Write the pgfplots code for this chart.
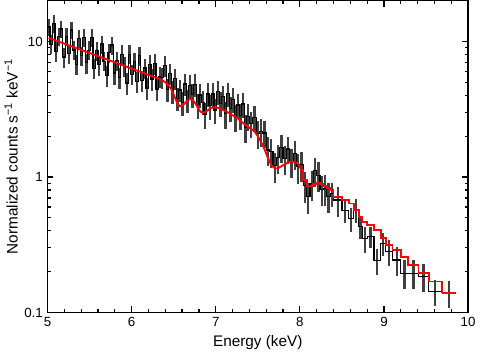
\documentclass[border=0pt]{standalone}
\usepackage{fontspec}
\setmainfont{Liberation Sans}
\usepackage{pgfplots}
\usepackage{pgfplotstable}
\pgfplotsset{compat=1.18}

% bins: left edge, centre, data, relative error, model
\pgfplotstableread{
xl xc y e m
5.00 5.015 12.78 0.14 10.63
5.03 5.045 9.54 0.16 10.46
5.06 5.075 13.58 0.15 10.30
5.09 5.105 8.43 0.17 10.13
5.12 5.135 10.93 0.15 9.97
5.15 5.165 12.36 0.14 9.82
5.18 5.195 7.67 0.17 9.66
5.21 5.225 10.92 0.15 9.51
5.24 5.255 8.15 0.16 9.36
5.27 5.285 12.14 0.14 9.21
5.30 5.315 8.66 0.16 9.07
5.33 5.345 6.77 0.17 8.92
5.36 5.375 10.55 0.15 8.78
5.39 5.405 7.88 0.16 8.64
5.42 5.435 10.71 0.15 8.51
5.45 5.465 6.96 0.17 8.37
5.48 5.495 8.63 0.16 8.24
5.51 5.525 10.69 0.15 8.11
5.54 5.555 6.34 0.17 7.98
5.57 5.585 8.61 0.16 7.86
5.60 5.615 6.73 0.17 7.73
5.63 5.645 9.58 0.15 7.61
5.66 5.675 7.15 0.16 7.49
5.69 5.705 5.59 0.18 7.37
5.72 5.735 8.32 0.16 7.25
5.75 5.765 9.41 0.15 7.14
5.78 5.795 5.85 0.18 7.03
5.81 5.825 7.25 0.16 6.92
5.84 5.855 5.41 0.18 6.81
5.87 5.885 8.05 0.16 6.70
5.90 5.915 6.59 0.17 6.59
5.93 5.945 4.93 0.18 6.49
5.96 5.975 8.05 0.16 6.39
5.99 6.005 5.74 0.17 6.29
6.02 6.035 7.11 0.16 6.19
6.05 6.065 5.07 0.18 6.09
6.08 6.095 7.89 0.16 5.99
6.11 6.125 5.14 0.18 5.90
6.14 6.155 6.37 0.17 5.81
6.17 6.185 4.53 0.19 5.71
6.20 6.215 6.76 0.17 5.62
6.23 6.245 5.29 0.18 5.54
6.26 6.275 6.86 0.17 5.45
6.29 6.305 4.46 0.19 5.36
6.32 6.335 5.53 0.18 5.28
6.35 6.365 5.40 0.18 5.16
6.38 6.395 6.62 0.17 5.02
6.41 6.425 4.41 0.19 4.84
6.44 6.455 5.82 0.18 4.62
6.47 6.485 4.27 0.19 4.27
6.50 6.515 5.31 0.18 3.85
6.53 6.545 3.81 0.20 3.48
6.56 6.575 4.38 0.19 3.32
6.59 6.605 3.53 0.20 3.37
6.62 6.635 4.86 0.19 3.52
6.65 6.665 3.68 0.20 3.68
6.68 6.695 4.75 0.19 3.77
6.71 6.725 4.06 0.20 3.70
6.74 6.755 4.84 0.19 3.51
6.77 6.785 3.41 0.21 3.26
6.80 6.815 4.02 0.20 3.05
6.83 6.845 3.56 0.20 2.96
6.86 6.875 2.88 0.21 3.02
6.89 6.905 4.09 0.20 3.10
6.92 6.935 3.35 0.21 3.20
6.95 6.965 4.10 0.20 3.26
6.98 6.995 3.12 0.21 3.27
7.01 7.025 4.27 0.20 3.24
7.04 7.055 3.49 0.21 3.18
7.07 7.085 3.94 0.20 3.13
7.10 7.115 2.92 0.22 3.06
7.13 7.145 4.13 0.20 2.99
7.16 7.175 3.20 0.21 2.92
7.19 7.205 3.74 0.21 2.84
7.22 7.235 2.77 0.22 2.77
7.25 7.265 3.40 0.21 2.70
7.28 7.295 2.83 0.22 2.58
7.31 7.325 3.45 0.21 2.50
7.34 7.355 2.31 0.23 2.42
7.37 7.385 2.81 0.22 2.34
7.40 7.42 2.48 0.22 2.26
7.44 7.46 2.73 0.22 2.17
7.48 7.50 2.09 0.23 2.00
7.52 7.54 2.16 0.23 1.80
7.56 7.58 2.11 0.23 1.60
7.60 7.62 1.58 0.24 1.38
7.64 7.66 1.54 0.24 1.22
7.68 7.70 1.21 0.25 1.16
7.72 7.74 1.39 0.24 1.16
7.76 7.78 1.66 0.23 1.20
7.80 7.82 1.36 0.24 1.24
7.84 7.86 1.61 0.23 1.28
7.88 7.90 1.30 0.24 1.30
7.92 7.94 1.48 0.24 1.29
7.96 7.98 1.19 0.25 1.25
8.00 8.02 1.23 0.25 1.12
8.04 8.06 0.863 0.25 0.946
8.08 8.10 0.716 0.26 0.861
8.12 8.14 0.891 0.25 0.851
8.16 8.18 1.11 0.24 0.883
8.20 8.22 1.03 0.25 0.900
8.24 8.26 0.809 0.25 0.887
8.28 8.30 0.820 0.25 0.859
8.32 8.34 0.721 0.25 0.828
8.36 8.38 0.755 0.20 0.798
8.40 8.45 0.675 0.25 0.713
8.50 8.54 0.569 0.20 0.675
8.58 8.61 0.494 0.20 0.637
8.64 8.67 0.569 0.20 0.569
8.70 8.72 0.428 0.18 0.508
8.74 8.77 0.352 0.22 0.467
8.80 8.84 0.362 0.18 0.442
8.88 8.92 0.241 0.22 0.406
8.96 8.99 0.324 0.20 0.352
9.02 9.06 0.281 0.22 0.315
9.10 9.15 0.244 0.24 0.289
9.20 9.245 0.195 0.24 0.258
9.29 9.35 0.195 0.24 0.224
9.41 9.47 0.185 0.24 0.195
9.53 9.61 0.143 0.22 0.169
9.69 9.77 0.139 0.22 0.139
}\spec

\begin{document}
\begin{tikzpicture}
\begin{axis}[
  scale only axis,
  width=315.75pt, height=234pt,
  ymode=log,
  xmin=5, xmax=10,
  ymin=0.1, ymax=20,
  xtick={5,6,7,8,9,10},
  minor x tick num=4,
  ytick={0.1,1,10},
  yticklabels={0.1,1,10},
  minor ytick={0.2,0.3,0.4,0.5,0.6,0.7,0.8,0.9,2,3,4,5,6,7,8,9},
  /pgf/number format/assume math mode=true,
  axis line style={line width=1pt},
  major tick length=4.5pt,
  minor tick length=2.3pt,
  every tick/.style={black, line width=0.9pt},
  tick label style={font=\fontsize{10}{12}\selectfont},
  label style={font=\fontsize{11.5}{13}\selectfont},
  xlabel={Energy (keV)},
  ylabel={Normalized counts s\textsuperscript{−1} keV\textsuperscript{−1}},
  ylabel style={yshift=-2pt},
]
% data error bars
\addplot[draw=none, mark=none,
  error bars/.cd, y dir=both, y explicit relative, error mark=none,
  error bar style={draw=black!75, line width=1.7pt}]
  table[x=xc, y=y, y error=e] {\spec};
% data histogram
\addplot[black, line width=0.9pt, const plot mark left]
  table[x=xl, y=y] {\spec};
\addplot[black, line width=0.9pt] coordinates {(9.69,0.139) (9.85,0.139)};
% model: smooth where the bins are fine, stepped beyond 8 keV
\addplot[red, line width=1.4pt, restrict x to domain=5:8.03]
  table[x=xc, y=m] {\spec};
\addplot[red, line width=1.4pt, const plot mark left, restrict x to domain=7.99:9.8]
  table[x=xl, y=m] {\spec};
\addplot[red, line width=1.4pt] coordinates {(9.69,0.139) (9.85,0.139)};
\end{axis}
\end{tikzpicture}
\end{document}
